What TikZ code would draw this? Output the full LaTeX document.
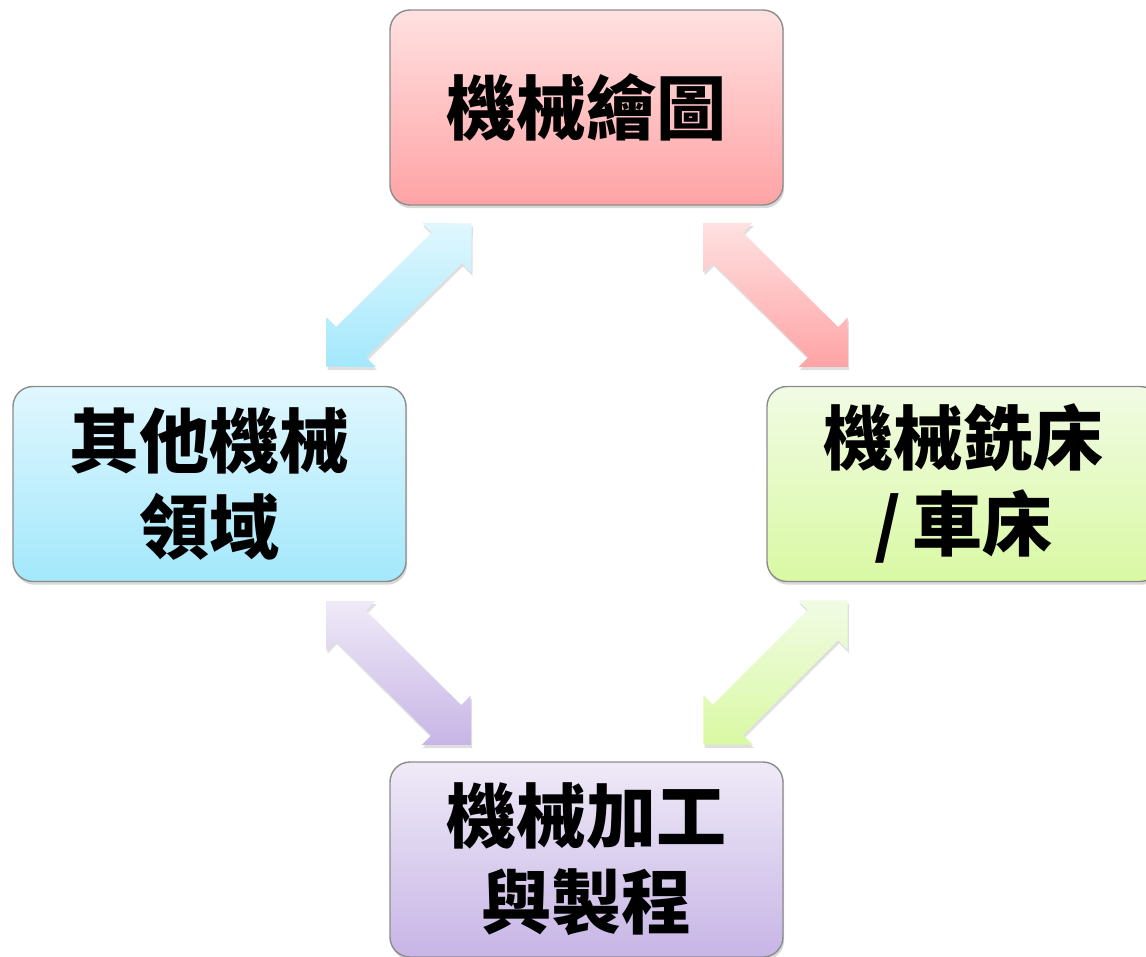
\documentclass[tikz,border=0pt]{standalone}
\usepackage{fontspec}
\newfontfamily\cjk{Noto Sans CJK TC}
\usetikzlibrary{shapes.arrows,shadows}
\definecolor{pinktop}{HTML}{FFE1E1}
\definecolor{pinkbot}{HTML}{FFA3A5}
\definecolor{bluetop}{HTML}{E0F7FE}
\definecolor{bluebot}{HTML}{A3E8FC}
\definecolor{greentop}{HTML}{F1FBE4}
\definecolor{greenbot}{HTML}{D9F9A3}
\definecolor{purpletop}{HTML}{EFEAF7}
\definecolor{purplebot}{HTML}{C7B5E6}
\begin{document}
\begin{tikzpicture}
[x=0.5pt,y=-0.5pt,
 boxdecorate/.style={shape=rectangle,rounded corners=10pt,draw=black!45,line width=0.7pt,
   minimum width=196.5pt,minimum height=97.5pt,align=center,
   font=\cjk\bfseries\fontsize{35}{43}\selectfont,
   drop shadow={opacity=0.3,shadow xshift=0.6pt,shadow yshift=-1.6pt}},
 arrowdecorate/.style={shape=double arrow,double arrow tip angle=90,
   double arrow head extend=6.75pt,inner xsep=0pt,inner ysep=10.5pt,
   minimum height=102pt,sloped,midway,
   drop shadow={opacity=0.25,shadow xshift=0.6pt,shadow yshift=-1.6pt}}]
\useasboundingbox (0,0) rectangle (1146,957);
%% boxes
\foreach \nodename/\x/\y/\shade/\words in {
  draw/586.5/107.5/pink/{機械繪圖}, other/209.5/484/blue/{其他機械\\領域},
  mill/963.5/484/green/{機械銑床\\/\hspace{6pt}車床}, make/586.5/859.5/purple/{機械加工\\與製程}}
{
  \node (\nodename) at (\x,\y) [boxdecorate,top color=\shade top,bottom color=\shade bot] {\words};
}
%% arrow ends
\foreach \nodename/\x/\y in {
  blueA/326/367, blueB/472/223, pinkA/703/223, pinkB/848/367,
  purpleA/326/601, purpleB/471/745, greenA/703/745, greenB/848/600}
{
  \coordinate (\nodename) at (\x,\y);
}
%% arrows
\foreach \shade in {blue, pink, purple, green}
{
  \path (\shade A) -- (\shade B)
    node[arrowdecorate,top color=\shade top,bottom color=\shade bot] {};
}
\end{tikzpicture}
\end{document}
